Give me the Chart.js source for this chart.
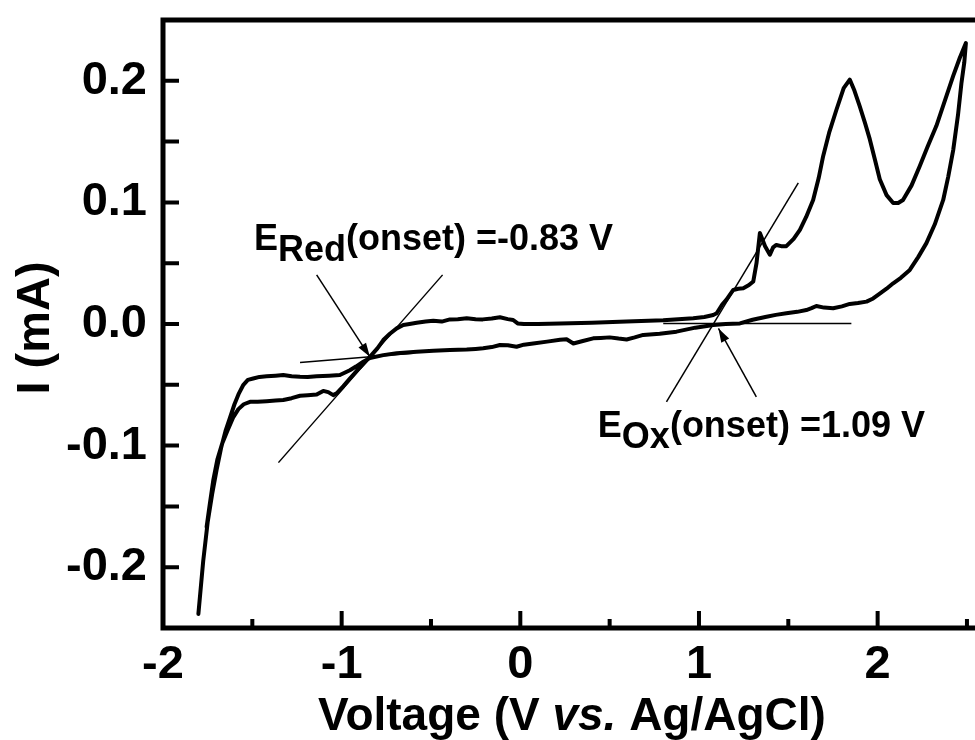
<!DOCTYPE html>
<html>
<head>
<meta charset="utf-8">
<script src="https://cdn.jsdelivr.net/npm/chart.js@4/dist/chart.umd.min.js"></script>
<style>
  html, body { margin: 0; padding: 0; background: #fff; overflow: hidden; }
  canvas { display: block; }
</style>
</head>
<body>
<canvas id="cv" width="975" height="740"></canvas>
<script>
// cyclic voltammogram, one sweep (V vs. Ag/AgCl, mA)
const voltage = [
  -1.756, -1.738, -1.718, -1.695, -1.668, -1.640, -1.608, -1.578, -1.548, -1.513,
  -1.47, -1.42, -1.37, -1.327, -1.28, -1.233, -1.19, -1.14, -1.103, -1.075, -1.047, -1.028,
  -0.99, -0.954, -0.90, -0.842, -0.80, -0.767, -0.73, -0.692, -0.655,
  -0.62, -0.58, -0.53, -0.487, -0.44, -0.394, -0.35, -0.30, -0.25, -0.21, -0.16, -0.114, -0.07, -0.04, -0.015,
  0.02, 0.1, 0.222, 0.4, 0.595, 0.8, 0.968, 1.03, 1.08, 1.099,
  1.13, 1.154, 1.192, 1.22, 1.248, 1.28, 1.304, 1.322, 1.341, 1.37, 1.397, 1.415, 1.433, 1.46, 1.489,
  1.53, 1.565, 1.60, 1.639, 1.67, 1.695, 1.73, 1.769, 1.81, 1.844, 1.87, 1.90, 1.93, 1.956, 1.985,
  2.012, 2.05, 2.087, 2.115, 2.142, 2.19, 2.236, 2.28, 2.329, 2.375, 2.423, 2.46, 2.494,
  2.485, 2.469, 2.45, 2.423, 2.395, 2.367, 2.32, 2.273, 2.227, 2.18, 2.13, 2.087, 2.05, 2.012,
  1.975, 1.938, 1.89, 1.844, 1.80, 1.751, 1.70, 1.657, 1.63, 1.601, 1.55, 1.489, 1.43, 1.378,
  1.30, 1.229, 1.15, 1.08, 0.98, 0.874, 0.78, 0.688, 0.64, 0.595, 0.55, 0.50, 0.45, 0.408,
  0.35, 0.297, 0.259, 0.222, 0.15, 0.072, 0.02, -0.021, -0.07, -0.114, -0.16, -0.208, -0.25,
  -0.30, -0.394, -0.487, -0.58, -0.692, -0.767, -0.842,
  -0.879, -0.92, -0.954, -1.01, -1.07, -1.14, -1.19, -1.233, -1.28, -1.327, -1.37, -1.42, -1.46,
  -1.495, -1.525, -1.55, -1.575, -1.60, -1.625, -1.65, -1.675, -1.70, -1.725, -1.75, -1.775, -1.802
];
const current = [
  -0.167, -0.148, -0.128, -0.111, -0.098, -0.088, -0.077, -0.070, -0.066, -0.064,
  -0.064, -0.0635, -0.063, -0.0625, -0.061, -0.059, -0.0585, -0.058, -0.055, -0.056, -0.0585, -0.057,
  -0.051, -0.0448, -0.036, -0.027, -0.020, -0.0132, -0.008, -0.0036, -0.0008,
  0.0, 0.001, 0.002, 0.0027, 0.002, 0.0038, 0.004, 0.0047, 0.004, 0.0038, 0.0045, 0.0055, 0.004, 0.0033, 0.0005,
  0.0, 0.0, 0.0005, 0.001, 0.002, 0.003, 0.0047, 0.0058, 0.0074, 0.0088,
  0.016, 0.020, 0.028, 0.029, 0.0294, 0.032, 0.035, 0.050, 0.0748, 0.064, 0.057, 0.063, 0.065, 0.064, 0.064,
  0.070, 0.0775, 0.088, 0.102, 0.120, 0.138, 0.158, 0.176, 0.194, 0.201, 0.192, 0.179, 0.165, 0.152, 0.135,
  0.119, 0.106, 0.0995, 0.0995, 0.102, 0.114, 0.130, 0.146, 0.163, 0.183, 0.204, 0.219, 0.231,
  0.215, 0.198, 0.172, 0.143, 0.121, 0.102, 0.082, 0.0665, 0.055, 0.0445, 0.038, 0.0335, 0.029, 0.025,
  0.021, 0.0184, 0.0172, 0.0165, 0.0145, 0.0129, 0.0135, 0.0148, 0.013, 0.0115, 0.010, 0.0088, 0.0075, 0.006,
  0.0035, 0.0005, 0.0, -0.0008, -0.003, -0.0063, -0.008, -0.009, -0.011, -0.0127, -0.012, -0.011, -0.0115, -0.0118,
  -0.014, -0.016, -0.0126, -0.013, -0.0145, -0.016, -0.017, -0.0187, -0.0175, -0.0173, -0.019, -0.020, -0.0205,
  -0.021, -0.0214, -0.022, -0.0228, -0.024, -0.0256, -0.028,
  -0.031, -0.035, -0.038, -0.042, -0.0425, -0.043, -0.0435, -0.0434, -0.043, -0.042, -0.0425, -0.043, -0.0435,
  -0.0448, -0.046, -0.050, -0.057, -0.066, -0.077, -0.088, -0.102, -0.120, -0.140, -0.163, -0.195, -0.2385
];

// onset construction lines (start, end) in data units
const redTangent = [[-1.354, -0.114], [-0.435, 0.0404]];
const redBaseline = [[-1.233, -0.0316], [-0.60, -0.0241]];
const redArrow = [[-1.14, 0.0404], [-0.842, -0.027]];
const oxTangent = [[0.818, -0.064], [1.556, 0.116]];
const oxBaseline = [[0.80, 0.0005], [1.853, 0.0005]];
const oxArrow = [[1.321, -0.060], [1.109, -0.0036]];

// axes
const xTickLabels = [-2, -1, 0, 1, 2];
const xMinorMarks = [-1.5, -0.5, 0.5, 1.5, 2.5];
const yTickLabels = [-0.2, -0.1, 0.0, 0.1, 0.2];
const yTickMarks = [-0.2, -0.15, -0.1, -0.05, 0, 0.05, 0.1, 0.15, 0.2];

const FONT = '"Liberation Sans", Arial, sans-serif';

const toPts = arr => arr.map(p => ({x: p[0], y: p[1]}));
const thin = (pts) => ({
  data: toPts(pts),
  borderColor: '#000',
  borderWidth: 1.5,
  pointRadius: 0,
  tension: 0
});

const labels = {
  red: {at: [-1.491, 0.061], main: 'E', sub: 'Red', rest: '(onset) =-0.83 V'},
  ox: {at: [0.434, -0.0932], main: 'E', sub: 'Ox', rest: '(onset) =1.09 V'}
};

function drawSubLabel(ctx, x, y, lab) {
  const px = x.getPixelForValue(lab.at[0]);
  const py = y.getPixelForValue(lab.at[1]);
  ctx.font = 'bold 36px ' + FONT;
  ctx.textAlign = 'left';
  ctx.textBaseline = 'alphabetic';
  let cx = px;
  ctx.fillText(lab.main, cx, py);
  cx += ctx.measureText(lab.main).width;
  ctx.fillText(lab.sub, cx, py + 11);
  cx += ctx.measureText(lab.sub).width;
  ctx.fillText(lab.rest, cx, py);
}

function arrowHead(ctx, meta) {
  const pts = meta.data;
  const a = pts[pts.length - 2], b = pts[pts.length - 1];
  const ang = Math.atan2(b.y - a.y, b.x - a.x);
  const len = 14, half = 4.5;
  ctx.beginPath();
  ctx.moveTo(b.x, b.y);
  ctx.lineTo(b.x - len * Math.cos(ang) + half * Math.sin(ang), b.y - len * Math.sin(ang) - half * Math.cos(ang));
  ctx.lineTo(b.x - len * Math.cos(ang) - half * Math.sin(ang), b.y - len * Math.sin(ang) + half * Math.cos(ang));
  ctx.closePath();
  ctx.fill();
}

const frameAndText = {
  id: 'frameAndText',
  afterDraw(chart) {
    const {ctx, chartArea: a, scales: {x, y}} = chart;
    ctx.save();
    ctx.strokeStyle = '#000';
    ctx.fillStyle = '#000';

    // frame: the right side falls outside the picture
    ctx.lineWidth = 5;
    ctx.lineJoin = 'miter';
    ctx.beginPath();
    ctx.moveTo(a.right + 5, a.top);
    ctx.lineTo(a.left, a.top);
    ctx.lineTo(a.left, a.bottom);
    ctx.lineTo(a.right + 5, a.bottom);
    ctx.stroke();

    // inward tick marks
    ctx.lineWidth = 4;
    ctx.beginPath();
    yTickMarks.forEach(v => {
      const p = y.getPixelForValue(v);
      ctx.moveTo(a.left, p);
      ctx.lineTo(a.left + 16, p);
    });
    xTickLabels.forEach(v => {
      const p = x.getPixelForValue(v);
      ctx.moveTo(p, a.bottom);
      ctx.lineTo(p, a.bottom - 17);
    });
    xMinorMarks.forEach(v => {
      const p = x.getPixelForValue(v);
      ctx.moveTo(p, a.bottom);
      ctx.lineTo(p, a.bottom - 9);
    });
    ctx.stroke();

    // arrow heads
    arrowHead(ctx, chart.getDatasetMeta(3));
    arrowHead(ctx, chart.getDatasetMeta(6));

    // onset labels
    drawSubLabel(ctx, x, y, labels.red);
    drawSubLabel(ctx, x, y, labels.ox);

    // x axis title with italic "vs."
    const parts = [
      {t: 'Voltage (V ', f: 'bold 46px ' + FONT},
      {t: 'vs.', f: 'italic bold 46px ' + FONT},
      {t: ' Ag/AgCl)', f: 'bold 46px ' + FONT}
    ];
    let total = 0;
    parts.forEach(p => { ctx.font = p.f; p.w = ctx.measureText(p.t).width; total += p.w; });
    let tx = (a.left + a.right) / 2 + 3 - total / 2;
    ctx.textAlign = 'left';
    ctx.textBaseline = 'alphabetic';
    parts.forEach(p => { ctx.font = p.f; ctx.fillText(p.t, tx, 730); tx += p.w; });

    // y axis title
    ctx.save();
    ctx.translate(49, (a.top + a.bottom) / 2 + 4);
    ctx.rotate(-Math.PI / 2);
    ctx.font = 'bold 47px ' + FONT;
    ctx.textAlign = 'center';
    ctx.fillText('I (mA)', 0, 0);
    ctx.restore();

    ctx.restore();
  }
};

new Chart(document.getElementById('cv'), {
  type: 'line',
  data: {
    datasets: [
      {
        data: voltage.map((v, i) => ({x: v, y: current[i]})),
        borderColor: '#000',
        borderWidth: 4,
        borderJoinStyle: 'round',
        borderCapStyle: 'round',
        pointRadius: 0,
        tension: 0
      },
      thin(redTangent),
      thin(redBaseline),
      thin(redArrow),
      thin(oxTangent),
      thin(oxBaseline),
      thin(oxArrow)
    ]
  },
  options: {
    responsive: false,
    animation: false,
    layout: {padding: {top: 20, right: 0, bottom: 0, left: 0}},
    plugins: {legend: {display: false}, tooltip: {enabled: false}},
    scales: {
      x: {
        type: 'linear',
        min: -2,
        max: 2.545,
        afterBuildTicks: s => { s.ticks = xTickLabels.map(v => ({value: v})); },
        afterFit: s => { s.height = 112; s.paddingLeft = 0; s.paddingRight = 0; },
        grid: {display: false, drawTicks: false},
        border: {display: false},
        ticks: {
          autoSkip: false,
          maxRotation: 0,
          padding: 9,
          color: '#000',
          font: {family: FONT, size: 47, weight: 'bold'},
          callback: v => String(v)
        }
      },
      y: {
        type: 'linear',
        min: -0.25,
        max: 0.25,
        afterBuildTicks: s => { s.ticks = yTickLabels.map(v => ({value: v})); },
        afterFit: s => { s.width = 163; s.paddingTop = 0; s.paddingBottom = 0; },
        grid: {display: false, drawTicks: false},
        border: {display: false},
        ticks: {
          autoSkip: false,
          padding: 16,
          color: '#000',
          font: {family: FONT, size: 47, weight: 'bold'},
          callback: v => v.toFixed(1)
        }
      }
    }
  },
  plugins: [frameAndText]
});
</script>
</body>
</html>
